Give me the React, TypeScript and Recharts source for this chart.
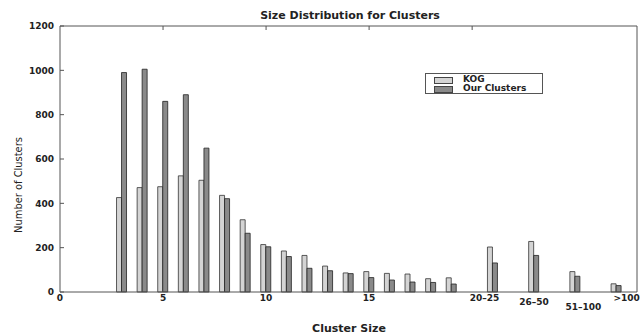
import React from 'react';
import { BarChart, Bar, XAxis, YAxis, Legend } from 'recharts';

// cluster size bins; the last four are ranges drawn at their own slots
const binX = [3, 4, 5, 6, 7, 8, 9, 10, 11, 12, 13, 14, 15, 16, 17, 18, 19, 21, 23, 25, 27];
const kogCounts = [426, 471, 475, 524, 504, 436, 326, 214, 185, 165, 117, 86, 92, 84, 81, 60, 64, 203, 228, 92, 37];
const ourCounts = [990, 1005, 860, 890, 649, 421, 265, 204, 160, 107, 96, 83, 65, 54, 45, 43, 36, 131, 165, 71, 29];

const xTickValues = [0, 5, 10, 15, 20.6, 23, 25.4, 27.5];
const xTickLabels = ['0', '5', '10', '15', '20\u201325', '26\u201350', '51\u2013100', '>100'];
const xTickDrop = [0, 0, 0, 0, 0, 4, 9, 0];
const yTicks = [0, 200, 400, 600, 800, 1000, 1200];

const data = binX.map((x, i) => ({ x, kog: kogCounts[i], ours: ourCounts[i] }));

const FONT = '"DejaVu Sans", sans-serif';

const XTick = (props: any) => {
  const { x, y, payload } = props;
  const i = xTickValues.indexOf(payload.value);
  return (
    <text x={x} y={y + xTickDrop[i]} dy="0.71em" textAnchor="middle" fontSize={9} fontWeight="bold" fill="#222" fontFamily={FONT}>
      {xTickLabels[i]}
    </text>
  );
};

const LegendBox = () => (
  <div style={{ width: 116, height: 19, border: '1px solid #555', background: '#fff', position: 'relative', fontFamily: FONT, fontSize: 9, fontWeight: 'bold', color: '#222' }}>
    <div style={{ position: 'absolute', left: 8, top: 3, width: 17, height: 5, background: '#d4d4d4', border: '1px solid #444' }} />
    <div style={{ position: 'absolute', left: 37, top: 0, lineHeight: '10px' }}>KOG</div>
    <div style={{ position: 'absolute', left: 8, top: 12, width: 17, height: 5, background: '#8a8a8a', border: '1px solid #444' }} />
    <div style={{ position: 'absolute', left: 37, top: 9, lineHeight: '10px' }}>Our Clusters</div>
  </div>
);

export default function App() {
  return (
    <div style={{ position: 'absolute', left: 0, top: 0, width: 641, height: 335, background: '#fff' }}>
      <div style={{ position: 'absolute', left: 0, width: 700, top: 9, textAlign: 'center', fontFamily: FONT, fontSize: 11, fontWeight: 'bold', color: '#222' }}>
        Size Distribution for Clusters
      </div>
      <div style={{ position: 'absolute', left: 0, width: 698, top: 322, textAlign: 'center', fontFamily: FONT, fontSize: 11, fontWeight: 'bold', color: '#222' }}>
        Cluster Size
      </div>
      <div style={{ position: 'absolute', left: 18, top: 185, transform: 'translate(-50%, -50%) rotate(-90deg)', whiteSpace: 'nowrap', fontFamily: '"Liberation Sans Narrow", "DejaVu Sans Condensed", sans-serif', fontSize: 11, color: '#222' }}>
        Number of Clusters
      </div>
      <BarChart width={641} height={335} data={data} margin={{ top: 25, right: 3, left: 0, bottom: 0 }} barGap={0} barSize={5}>
        <XAxis xAxisId="b" dataKey="x" type="number" domain={[0, 28]} ticks={xTickValues} interval={0} height={22}
          stroke="#555" tickLine={false} tickSize={0} tickMargin={3} tick={<XTick />} />
        <XAxis xAxisId="t" dataKey="x" type="number" domain={[0, 28]} ticks={[5, 10, 15, 20]} orientation="top" height={1}
          stroke="#555" tickSize={-4} tickMargin={0} tickFormatter={() => ''} />
        <YAxis yAxisId="l" domain={[0, 1200]} ticks={yTicks} width={60} stroke="#555" tickSize={-4} tickMargin={10}
          tick={{ fontSize: 9, fontWeight: 'bold', fill: '#222', fontFamily: FONT }} />
        <YAxis yAxisId="r" orientation="right" domain={[0, 1200]} ticks={[200, 400, 600, 800, 1000]} width={1} stroke="#555"
          tickSize={-4} tickMargin={0} tickFormatter={() => ''} />
        <Legend content={<LegendBox />} wrapperStyle={{ position: 'absolute', left: 425, top: 73, width: 'auto' }} />
        <Bar xAxisId="b" yAxisId="l" dataKey="kog" name="KOG" fill="#d4d4d4" stroke="#333" strokeWidth={0.8} isAnimationActive={false} />
        <Bar xAxisId="b" yAxisId="l" dataKey="ours" name="Our Clusters" fill="#8a8a8a" stroke="#222" strokeWidth={0.8} isAnimationActive={false} />
      </BarChart>
    </div>
  );
}
